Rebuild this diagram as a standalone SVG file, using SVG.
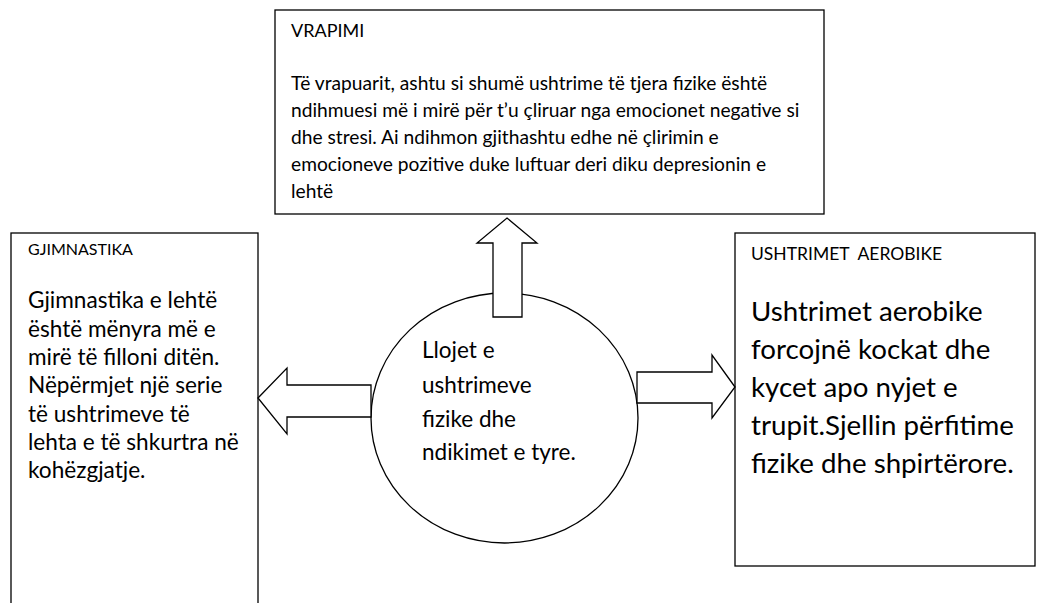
<svg xmlns="http://www.w3.org/2000/svg" width="1038" height="603" viewBox="0 0 1038 603">
<style>
.box{fill:#fff;stroke:#000;stroke-width:1.3}
.arr{fill:#fff;stroke:#000;stroke-width:1.3;stroke-linejoin:miter}
text{font-family:Lato,"Open Sans","Liberation Sans",sans-serif;fill:#000}
.ht{font-size:18px}
.hl{font-size:16px}
.hr{font-size:17.5px}
.s{font-size:19.2px}
.m{font-size:22.6px}
.l{font-size:27.7px}
.c{font-size:22.5px}
</style>
<rect width="1038" height="603" fill="#fff"/>
<g id="node-vrapimi">
<rect class="box" x="275" y="10" width="549" height="204"/>
<text class="ht" x="291" y="37">VRAPIMI</text>
<text class="s" x="291" y="90">Të vrapuarit, ashtu si shumë ushtrime të tjera fizike është</text>
<text class="s" x="291" y="117">ndihmuesi më i mirë për t’u çliruar nga emocionet negative si</text>
<text class="s" x="291" y="144">dhe stresi. Ai ndihmon gjithashtu edhe në çlirimin e</text>
<text class="s" x="291" y="171">emocioneve pozitive duke luftuar deri diku depresionin e</text>
<text class="s" x="291" y="198">lehtë</text>
</g>
<g id="node-gjimnastika">
<rect class="box" x="11" y="233" width="247" height="400"/>
<text class="hl" x="28" y="255">GJIMNASTIKA</text>
<text class="m" x="28" y="308">Gjimnastika e lehtë</text>
<text class="m" x="28" y="337">është mënyra më e</text>
<text class="m" x="28" y="365">mirë të filloni ditën.</text>
<text class="m" x="28" y="393">Nëpërmjet një serie</text>
<text class="m" x="28" y="422">të ushtrimeve të</text>
<text class="m" x="28" y="450">lehta e të shkurtra në</text>
<text class="m" x="28" y="478">kohëzgjatje.</text>
</g>
<g id="node-aerobike">
<rect class="box" x="735" y="233" width="300" height="333"/>
<text class="hr" x="751" y="260">USHTRIMET&#160; AEROBIKE</text>
<text class="l" x="751" y="321">Ushtrimet aerobike</text>
<text class="l" x="751" y="359">forcojnë kockat dhe</text>
<text class="l" x="751" y="397">kycet apo nyjet e</text>
<text class="l" x="751" y="435">trupit.Sjellin përfitime</text>
<text class="l" x="751" y="473">fizike dhe shpirtërore.</text>
</g>
<g id="node-center">
<ellipse class="box" cx="504.5" cy="418" rx="133.5" ry="125"/>
<text class="c" x="422" y="358">Llojet e</text>
<text class="c" x="422" y="393">ushtrimeve</text>
<text class="c" x="422" y="427">fizike dhe</text>
<text class="c" x="422" y="460">ndikimet e tyre.</text>
</g>
<g id="connectors">
<polygon class="arr" points="507,218 537,243 522,243 522,317 493,317 493,243 477,243"/>
<polygon class="arr" points="258,398 287,368 287,385 371,385 371,417 287,417 287,434"/>
<polygon class="arr" points="735,387 712,355 712,372 637,372 637,403 712,403 712,418"/>
</g>
</svg>
